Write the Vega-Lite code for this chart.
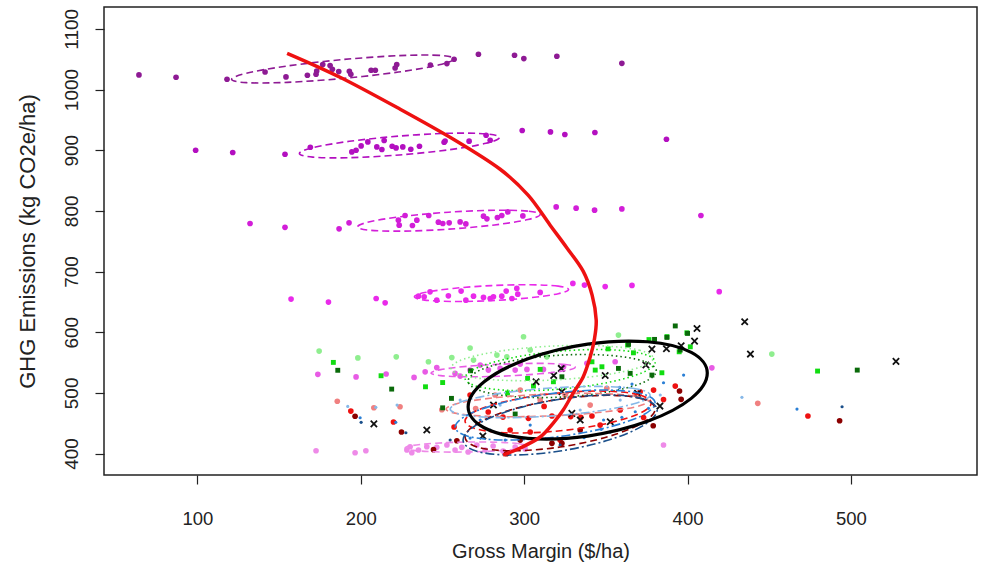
{
 "$schema": "https://vega.github.io/schema/vega-lite/v6.json",
 "width": 873, "height": 468,
 "autosize": {"type": "none"},
 "padding": {"left": 104, "top": 7, "right": 10, "bottom": 99},
 "background": "white",
 "config": {
  "view": {"stroke": "#222", "strokeWidth": 1.5},
  "font": "Liberation Sans",
  "axis": {"grid": false, "domain": false, "tickColor": "#222", "tickSize": 9, "tickWidth": 1.2, "labelColor": "#222", "titleColor": "#222", "titleFontWeight": "normal", "labelFont": "Liberation Sans", "titleFont": "Liberation Sans"}
 },
 "datasets": {
  "pts": [
   {"g":"p1","x":64.2,"y":1024.0},{"g":"p1","x":86.9,"y":1020.2},{"g":"p1","x":118.1,"y":1016.9},{"g":"p1","x":141.4,"y":1028.9},{"g":"p1","x":154.2,"y":1020.7},{"g":"p1","x":167.3,"y":1023.5},{"g":"p1","x":172.6,"y":1025.1},{"g":"p1","x":173.0,"y":1030.5},{"g":"p1","x":176.7,"y":1041.1},{"g":"p1","x":181.2,"y":1039.4},{"g":"p1","x":182.6,"y":1033.3},{"g":"p1","x":186.5,"y":1029.6},{"g":"p1","x":193.0,"y":1030.1},{"g":"p1","x":193.9,"y":1025.1},{"g":"p1","x":206.3,"y":1031.7},{"g":"p1","x":208.9,"y":1031.7},{"g":"p1","x":221.0,"y":1035.5},{"g":"p1","x":222.0,"y":1041.1},{"g":"p1","x":242.6,"y":1040.4},{"g":"p1","x":252.7,"y":1042.7},{"g":"p1","x":257.1,"y":1049.8},{"g":"p1","x":272.0,"y":1058.1},{"g":"p1","x":294.1,"y":1056.4},{"g":"p1","x":299.8,"y":1051.0},{"g":"p1","x":320.0,"y":1054.8},{"g":"p1","x":359.8,"y":1043.2},
   {"g":"p2","x":98.9,"y":899.9},{"g":"p2","x":121.6,"y":896.1},{"g":"p2","x":153.6,"y":893.3},{"g":"p2","x":169.1,"y":904.9},{"g":"p2","x":194.5,"y":897.1},{"g":"p2","x":197.1,"y":899.9},{"g":"p2","x":200.2,"y":907.0},{"g":"p2","x":204.3,"y":913.6},{"g":"p2","x":209.8,"y":905.4},{"g":"p2","x":212.9,"y":901.1},{"g":"p2","x":214.3,"y":915.9},{"g":"p2","x":219.2,"y":906.5},{"g":"p2","x":221.6,"y":903.7},{"g":"p2","x":225.7,"y":905.4},{"g":"p2","x":230.6,"y":901.6},{"g":"p2","x":235.9,"y":906.5},{"g":"p2","x":251.0,"y":913.1},{"g":"p2","x":251.6,"y":915.2},{"g":"p2","x":266.3,"y":914.8},{"g":"p2","x":276.7,"y":924.6},{"g":"p2","x":279.2,"y":916.4},{"g":"p2","x":298.8,"y":932.4},{"g":"p2","x":316.1,"y":930.1},{"g":"p2","x":324.9,"y":925.8},{"g":"p2","x":343.3,"y":929.1},{"g":"p2","x":387.1,"y":918.0},
   {"g":"p3","x":132.2,"y":779.2},{"g":"p3","x":153.6,"y":772.8},{"g":"p3","x":186.7,"y":770.3},{"g":"p3","x":192.8,"y":780.2},{"g":"p3","x":223.0,"y":784.6},{"g":"p3","x":223.5,"y":776.4},{"g":"p3","x":227.1,"y":792.4},{"g":"p3","x":231.6,"y":775.9},{"g":"p3","x":234.3,"y":784.6},{"g":"p3","x":241.6,"y":792.4},{"g":"p3","x":247.5,"y":781.3},{"g":"p3","x":250.2,"y":779.2},{"g":"p3","x":254.1,"y":780.2},{"g":"p3","x":260.8,"y":781.8},{"g":"p3","x":264.3,"y":778.5},{"g":"p3","x":275.1,"y":791.2},{"g":"p3","x":277.2,"y":786.8},{"g":"p3","x":283.6,"y":789.1},{"g":"p3","x":286.3,"y":792.4},{"g":"p3","x":290.0,"y":798.3},{"g":"p3","x":299.2,"y":791.7},{"g":"p3","x":319.6,"y":806.5},{"g":"p3","x":331.8,"y":804.4},{"g":"p3","x":343.1,"y":801.1},{"g":"p3","x":359.8,"y":803.2},{"g":"p3","x":408.2,"y":792.4},
   {"g":"p4","x":157.3,"y":654.5},{"g":"p4","x":180.2,"y":649.6},{"g":"p4","x":209.4,"y":655.6},{"g":"p4","x":214.9,"y":648.4},{"g":"p4","x":235.3,"y":659.4},{"g":"p4","x":238.8,"y":658.3},{"g":"p4","x":242.4,"y":666.5},{"g":"p4","x":246.5,"y":652.8},{"g":"p4","x":253.6,"y":659.9},{"g":"p4","x":261.4,"y":667.7},{"g":"p4","x":264.3,"y":652.8},{"g":"p4","x":269.0,"y":659.4},{"g":"p4","x":275.1,"y":657.3},{"g":"p4","x":279.2,"y":655.6},{"g":"p4","x":281.2,"y":658.3},{"g":"p4","x":286.3,"y":659.4},{"g":"p4","x":289.0,"y":667.7},{"g":"p4","x":292.5,"y":655.6},{"g":"p4","x":295.5,"y":672.1},{"g":"p4","x":296.1,"y":662.7},{"g":"p4","x":309.8,"y":665.5},{"g":"p4","x":329.8,"y":680.4},{"g":"p4","x":336.9,"y":677.6},{"g":"p4","x":349.6,"y":675.1},{"g":"p4","x":366.0,"y":677.1},{"g":"p4","x":419.4,"y":666.8},
   {"g":"p5","x":173.7,"y":530.5},{"g":"p5","x":197.1,"y":526.3},{"g":"p5","x":215.5,"y":531.0},{"g":"p5","x":232.6,"y":525.5},{"g":"p5","x":239.4,"y":534.7},{"g":"p5","x":246.5,"y":541.7},{"g":"p5","x":257.7,"y":532.1},{"g":"p5","x":266.9,"y":537.5},{"g":"p5","x":278.1,"y":537.5},{"g":"p5","x":285.3,"y":540.3},{"g":"p5","x":294.5,"y":537.5},{"g":"p5","x":301.7,"y":538.7},{"g":"p5","x":311.8,"y":538.7},{"g":"p5","x":324.1,"y":543.0},{"g":"p5","x":338.4,"y":548.6},{"g":"p5","x":355.7,"y":551.2},{"g":"p5","x":414.9,"y":541.3},{"g":"p5","x":273.1,"y":545.8},{"g":"p5","x":297.6,"y":547.4},{"g":"p5","x":260.8,"y":527.7},
   {"g":"p6","x":172.6,"y":404.6},{"g":"p6","x":196.5,"y":401.3},{"g":"p6","x":203.1,"y":404.6},{"g":"p6","x":228.2,"y":405.8},{"g":"p6","x":230.2,"y":411.2},{"g":"p6","x":231.2,"y":401.3},{"g":"p6","x":235.3,"y":405.8},{"g":"p6","x":240.4,"y":411.2},{"g":"p6","x":246.5,"y":410.2},{"g":"p6","x":252.7,"y":414.0},{"g":"p6","x":257.7,"y":405.8},{"g":"p6","x":261.8,"y":410.2},{"g":"p6","x":265.7,"y":402.5},{"g":"p6","x":271.0,"y":414.0},{"g":"p6","x":276.1,"y":405.8},{"g":"p6","x":281.0,"y":412.4},{"g":"p6","x":287.1,"y":404.1},{"g":"p6","x":294.5,"y":410.7},{"g":"p6","x":300.6,"y":407.4},{"g":"p6","x":385.3,"y":414.0},
   {"g":"g1","x":174.5,"y":568.8},{"g":"g1","x":198.2,"y":557.6},{"g":"g1","x":221.7,"y":559.4},{"g":"g1","x":241.4,"y":551.2},{"g":"g1","x":255.7,"y":558.1},{"g":"g1","x":269.0,"y":554.0},{"g":"g1","x":283.3,"y":562.2},{"g":"g1","x":289.4,"y":559.4},{"g":"g1","x":299.6,"y":592.4},{"g":"g1","x":313.9,"y":559.4},{"g":"g1","x":357.7,"y":595.2},{"g":"g1","x":451.6,"y":563.9},{"g":"g1","x":266.9,"y":573.8},{"g":"g1","x":303.7,"y":570.5},
   {"g":"g2","x":183.2,"y":550.2},{"g":"g2","x":212.4,"y":528.2},{"g":"g2","x":239.6,"y":510.0},{"g":"g2","x":250.1,"y":517.0},{"g":"g2","x":289.8,"y":499.7},{"g":"g2","x":302.1,"y":523.9},{"g":"g2","x":305.7,"y":511.2},{"g":"g2","x":309.8,"y":538.7},{"g":"g2","x":317.9,"y":518.3},{"g":"g2","x":341.5,"y":551.2},{"g":"g2","x":343.5,"y":537.5},{"g":"g2","x":347.6,"y":543.0},{"g":"g2","x":351.4,"y":572.5},{"g":"g2","x":363.3,"y":578.7},{"g":"g2","x":366.9,"y":566.0},{"g":"g2","x":376.4,"y":587.8},{"g":"g2","x":384.3,"y":533.1},{"g":"g2","x":387.4,"y":592.7},{"g":"g2","x":394.9,"y":567.7},{"g":"g2","x":399.6,"y":599.0},{"g":"g2","x":401.7,"y":575.9},{"g":"g2","x":479.6,"y":535.9},
   {"g":"g3","x":185.9,"y":537.2},{"g":"g3","x":218.9,"y":506.2},{"g":"g3","x":255.5,"y":490.9},{"g":"g3","x":267.2,"y":536.4},{"g":"g3","x":250.1,"y":475.3},{"g":"g3","x":294.5,"y":465.1},{"g":"g3","x":323.1,"y":526.5},{"g":"g3","x":357.7,"y":540.3},{"g":"g3","x":363.9,"y":579.9},{"g":"g3","x":364.9,"y":532.1},{"g":"g3","x":378.2,"y":529.3},{"g":"g3","x":379.8,"y":588.1},{"g":"g3","x":387.4,"y":591.4},{"g":"g3","x":392.5,"y":610.3},{"g":"g3","x":395.5,"y":570.5},{"g":"g3","x":400.0,"y":598.0},{"g":"g3","x":503.9,"y":537.5},
   {"g":"r1","x":185.6,"y":486.1},{"g":"r1","x":208.0,"y":475.4},{"g":"r1","x":224.0,"y":477.1},{"g":"r1","x":249.6,"y":472.1},{"g":"r1","x":270.3,"y":474.1},{"g":"r1","x":297.6,"y":504.6},{"g":"r1","x":350.6,"y":507.4},{"g":"r1","x":443.0,"y":482.7},{"g":"r1","x":282.2,"y":496.4},{"g":"r1","x":309.8,"y":488.1},{"g":"r1","x":325.1,"y":496.4},{"g":"r1","x":340.4,"y":479.9},
   {"g":"r2","x":193.9,"y":470.0},{"g":"r2","x":220.0,"y":451.9},{"g":"r2","x":257.1,"y":443.7},{"g":"r2","x":287.0,"y":460.1},{"g":"r2","x":302.6,"y":458.0},{"g":"r2","x":312.2,"y":477.7},{"g":"r2","x":317.0,"y":461.8},{"g":"r2","x":328.5,"y":460.9},{"g":"r2","x":334.7,"y":459.6},{"g":"r2","x":341.5,"y":461.8},{"g":"r2","x":371.0,"y":501.8},{"g":"r2","x":373.1,"y":459.3},{"g":"r2","x":379.2,"y":504.6},{"g":"r2","x":385.3,"y":488.9},{"g":"r2","x":392.5,"y":511.2},{"g":"r2","x":473.7,"y":461.8},{"g":"r2","x":266.9,"y":496.4},{"g":"r2","x":278.0,"y":468.4},{"g":"r2","x":291.4,"y":438.7},{"g":"r2","x":303.7,"y":435.4},{"g":"r2","x":322.0,"y":422.2},{"g":"r2","x":346.5,"y":446.9},{"g":"r2","x":358.8,"y":471.7},
   {"g":"r3","x":196.5,"y":461.4},{"g":"r3","x":224.9,"y":435.4},{"g":"r3","x":244.5,"y":406.3},{"g":"r3","x":258.8,"y":421.1},{"g":"r3","x":289.2,"y":399.7},{"g":"r3","x":317.0,"y":416.8},{"g":"r3","x":323.1,"y":416.8},{"g":"r3","x":379.0,"y":445.8},{"g":"r3","x":395.1,"y":503.0},{"g":"r3","x":396.1,"y":489.3},{"g":"r3","x":493.1,"y":454.0},{"g":"r3","x":297.6,"y":422.2},{"g":"r3","x":334.3,"y":438.7},
   {"g":"b1","x":192.0,"y":477.7},{"g":"b1","x":209.2,"y":476.1},{"g":"b1","x":222.2,"y":479.9},{"g":"b1","x":433.3,"y":492.6},{"g":"b1","x":260.8,"y":488.1},{"g":"b1","x":285.3,"y":479.9},{"g":"b1","x":309.8,"y":496.4},{"g":"b1","x":334.3,"y":471.7},{"g":"b1","x":358.8,"y":488.1},{"g":"b1","x":383.3,"y":496.4},
   {"g":"b2","x":199.6,"y":459.0},{"g":"b2","x":221.4,"y":451.4},{"g":"b2","x":467.0,"y":473.3},{"g":"b2","x":358.4,"y":509.0},{"g":"b2","x":366.0,"y":514.5},{"g":"b2","x":368.0,"y":468.9},{"g":"b2","x":376.1,"y":474.5},{"g":"b2","x":385.3,"y":516.6},{"g":"b2","x":397.6,"y":529.3},{"g":"b2","x":348.6,"y":455.2},{"g":"b2","x":347.2,"y":439.9},{"g":"b2","x":336.7,"y":426.0},{"g":"b2","x":359.8,"y":459.6},{"g":"b2","x":273.1,"y":455.2},{"g":"b2","x":288.4,"y":422.2},{"g":"b2","x":303.7,"y":446.9},{"g":"b2","x":266.9,"y":425.5},
   {"g":"b3","x":200.2,"y":451.4},{"g":"b3","x":227.6,"y":434.3},{"g":"b3","x":494.6,"y":477.1},{"g":"b3","x":254.7,"y":422.2},{"g":"b3","x":279.2,"y":438.7},{"g":"b3","x":322.0,"y":414.0},{"g":"b3","x":352.7,"y":435.4},{"g":"b3","x":377.2,"y":455.2},
   {"g":"k","x":208.0,"y":448.9},{"g":"k","x":240.4,"y":438.7},{"g":"k","x":281.2,"y":479.9},{"g":"k","x":274.7,"y":428.8},{"g":"k","x":307.3,"y":518.3},{"g":"k","x":318.1,"y":528.5},{"g":"k","x":322.7,"y":540.3},{"g":"k","x":323.1,"y":501.8},{"g":"k","x":329.2,"y":466.2},{"g":"k","x":334.3,"y":455.2},{"g":"k","x":349.6,"y":528.5},{"g":"k","x":352.7,"y":452.4},{"g":"k","x":369.4,"y":499.2},{"g":"k","x":374.5,"y":545.8},{"g":"k","x":378.2,"y":572.1},{"g":"k","x":383.1,"y":478.2},{"g":"k","x":387.1,"y":572.6},{"g":"k","x":396.1,"y":577.6},{"g":"k","x":404.3,"y":585.3},{"g":"k","x":405.8,"y":606.2},{"g":"k","x":435.0,"y":617.1},{"g":"k","x":438.5,"y":563.9},{"g":"k","x":527.6,"y":551.9}
  ],
  "ell": [
   {"g":"p1","k":0,"x":257.1,"y":1050.8},{"g":"p1","k":1,"x":248.0,"y":1056.3},{"g":"p1","k":2,"x":223.1,"y":1055.8},{"g":"p1","k":3,"x":189.0,"y":1049.4},{"g":"p1","k":4,"x":155.0,"y":1038.8},{"g":"p1","k":5,"x":130.0,"y":1026.9},{"g":"p1","k":6,"x":120.9,"y":1016.8},{"g":"p1","k":7,"x":130.0,"y":1011.3},{"g":"p1","k":8,"x":155.0,"y":1011.8},{"g":"p1","k":9,"x":189.0,"y":1018.2},{"g":"p1","k":10,"x":223.1,"y":1028.8},{"g":"p1","k":11,"x":248.0,"y":1040.7},
   {"g":"p2","k":0,"x":284.8,"y":920.9},{"g":"p2","k":1,"x":276.6,"y":926.9},{"g":"p2","k":2,"x":254.2,"y":927.8},{"g":"p2","k":3,"x":223.6,"y":923.3},{"g":"p2","k":4,"x":193.0,"y":914.6},{"g":"p2","k":5,"x":170.6,"y":904.1},{"g":"p2","k":6,"x":162.4,"y":894.5},{"g":"p2","k":7,"x":170.6,"y":888.5},{"g":"p2","k":8,"x":193.0,"y":887.6},{"g":"p2","k":9,"x":223.6,"y":892.1},{"g":"p2","k":10,"x":254.2,"y":900.8},{"g":"p2","k":11,"x":276.6,"y":911.3},
   {"g":"p3","k":0,"x":309.8,"y":794.0},{"g":"p3","k":1,"x":302.3,"y":799.6},{"g":"p3","k":2,"x":281.9,"y":801.0},{"g":"p3","k":3,"x":253.9,"y":797.8},{"g":"p3","k":4,"x":225.9,"y":790.8},{"g":"p3","k":5,"x":205.5,"y":782.0},{"g":"p3","k":6,"x":198.0,"y":773.6},{"g":"p3","k":7,"x":205.5,"y":768.0},{"g":"p3","k":8,"x":225.9,"y":766.6},{"g":"p3","k":9,"x":253.9,"y":769.8},{"g":"p3","k":10,"x":281.9,"y":776.8},{"g":"p3","k":11,"x":302.3,"y":785.6},
   {"g":"p4","k":0,"x":327.2,"y":670.5},{"g":"p4","k":1,"x":320.9,"y":675.9},{"g":"p4","k":2,"x":303.6,"y":678.2},{"g":"p4","k":3,"x":280.0,"y":676.8},{"g":"p4","k":4,"x":256.4,"y":672.1},{"g":"p4","k":5,"x":239.1,"y":665.3},{"g":"p4","k":6,"x":232.8,"y":658.3},{"g":"p4","k":7,"x":239.1,"y":652.9},{"g":"p4","k":8,"x":256.4,"y":650.6},{"g":"p4","k":9,"x":280.0,"y":652.0},{"g":"p4","k":10,"x":303.6,"y":656.8},{"g":"p4","k":11,"x":320.9,"y":663.5},
   {"g":"p5","k":0,"x":331.2,"y":542.4},{"g":"p5","k":1,"x":325.3,"y":546.7},{"g":"p5","k":2,"x":309.2,"y":548.6},{"g":"p5","k":3,"x":287.1,"y":547.4},{"g":"p5","k":4,"x":265.0,"y":543.7},{"g":"p5","k":5,"x":248.9,"y":538.3},{"g":"p5","k":6,"x":243.0,"y":532.6},{"g":"p5","k":7,"x":248.9,"y":528.4},{"g":"p5","k":8,"x":265.0,"y":526.5},{"g":"p5","k":9,"x":287.1,"y":527.6},{"g":"p5","k":10,"x":309.2,"y":531.4},{"g":"p5","k":11,"x":325.3,"y":536.8},
   {"g":"p6","k":0,"x":301.9,"y":412.3},{"g":"p6","k":1,"x":296.9,"y":416.2},{"g":"p6","k":2,"x":283.2,"y":418.6},{"g":"p6","k":3,"x":264.5,"y":418.9},{"g":"p6","k":4,"x":245.8,"y":417.0},{"g":"p6","k":5,"x":232.1,"y":413.4},{"g":"p6","k":6,"x":227.1,"y":409.1},{"g":"p6","k":7,"x":232.1,"y":405.2},{"g":"p6","k":8,"x":245.8,"y":402.8},{"g":"p6","k":9,"x":264.5,"y":402.5},{"g":"p6","k":10,"x":283.2,"y":404.4},{"g":"p6","k":11,"x":296.9,"y":408.0},
   {"g":"g1","k":0,"x":379.0,"y":557.3},{"g":"g1","k":1,"x":370.7,"y":570.2},{"g":"g1","k":2,"x":348.1,"y":577.4},{"g":"g1","k":3,"x":317.1,"y":577.1},{"g":"g1","k":4,"x":286.2,"y":569.2},{"g":"g1","k":5,"x":263.5,"y":556.0},{"g":"g1","k":6,"x":255.2,"y":540.9},{"g":"g1","k":7,"x":263.5,"y":528.0},{"g":"g1","k":8,"x":286.2,"y":520.8},{"g":"g1","k":9,"x":317.1,"y":521.1},{"g":"g1","k":10,"x":348.1,"y":529.0},{"g":"g1","k":11,"x":370.7,"y":542.2},
   {"g":"g2","k":0,"x":380.2,"y":550.7},{"g":"g2","k":1,"x":372.4,"y":564.6},{"g":"g2","k":2,"x":351.1,"y":571.2},{"g":"g2","k":3,"x":322.0,"y":568.8},{"g":"g2","k":4,"x":292.9,"y":558.0},{"g":"g2","k":5,"x":271.6,"y":541.8},{"g":"g2","k":6,"x":263.8,"y":524.3},{"g":"g2","k":7,"x":271.6,"y":510.5},{"g":"g2","k":8,"x":292.9,"y":503.8},{"g":"g2","k":9,"x":322.0,"y":506.2},{"g":"g2","k":10,"x":351.1,"y":517.0},{"g":"g2","k":11,"x":372.4,"y":533.3},
   {"g":"g3","k":0,"x":380.9,"y":535.9},{"g":"g3","k":1,"x":373.2,"y":552.1},{"g":"g3","k":2,"x":352.1,"y":561.8},{"g":"g3","k":3,"x":323.3,"y":562.3},{"g":"g3","k":4,"x":294.5,"y":553.6},{"g":"g3","k":5,"x":273.4,"y":537.9},{"g":"g3","k":6,"x":265.7,"y":519.5},{"g":"g3","k":7,"x":273.4,"y":503.3},{"g":"g3","k":8,"x":294.5,"y":493.6},{"g":"g3","k":9,"x":323.3,"y":493.1},{"g":"g3","k":10,"x":352.1,"y":501.8},{"g":"g3","k":11,"x":373.2,"y":517.5},
   {"g":"r1","k":0,"x":376.0,"y":486.5},{"g":"r1","k":1,"x":367.7,"y":494.7},{"g":"r1","k":2,"x":345.1,"y":498.9},{"g":"r1","k":3,"x":314.1,"y":498.0},{"g":"r1","k":4,"x":283.2,"y":492.3},{"g":"r1","k":5,"x":260.5,"y":483.3},{"g":"r1","k":6,"x":252.2,"y":473.3},{"g":"r1","k":7,"x":260.5,"y":465.2},{"g":"r1","k":8,"x":283.2,"y":460.9},{"g":"r1","k":9,"x":314.1,"y":461.8},{"g":"r1","k":10,"x":345.1,"y":467.5},{"g":"r1","k":11,"x":367.7,"y":476.6},
   {"g":"r2","k":0,"x":377.8,"y":483.2},{"g":"r2","k":1,"x":370.2,"y":496.9},{"g":"r2","k":2,"x":349.3,"y":502.9},{"g":"r2","k":3,"x":320.8,"y":499.7},{"g":"r2","k":4,"x":292.3,"y":488.1},{"g":"r2","k":5,"x":271.4,"y":471.3},{"g":"r2","k":6,"x":263.8,"y":453.6},{"g":"r2","k":7,"x":271.4,"y":440.0},{"g":"r2","k":8,"x":292.3,"y":433.9},{"g":"r2","k":9,"x":320.8,"y":437.1},{"g":"r2","k":10,"x":349.3,"y":448.7},{"g":"r2","k":11,"x":370.2,"y":465.6},
   {"g":"r3","k":0,"x":380.2,"y":473.3},{"g":"r3","k":1,"x":372.4,"y":490.0},{"g":"r3","k":2,"x":351.1,"y":496.0},{"g":"r3","k":3,"x":322.0,"y":489.7},{"g":"r3","k":4,"x":292.9,"y":472.9},{"g":"r3","k":5,"x":271.6,"y":450.0},{"g":"r3","k":6,"x":263.8,"y":427.1},{"g":"r3","k":7,"x":271.6,"y":410.5},{"g":"r3","k":8,"x":292.9,"y":404.5},{"g":"r3","k":9,"x":322.0,"y":410.7},{"g":"r3","k":10,"x":351.1,"y":427.6},{"g":"r3","k":11,"x":372.4,"y":450.5},
   {"g":"b1","k":0,"x":377.1,"y":496.3},{"g":"b1","k":1,"x":368.9,"y":506.4},{"g":"b1","k":2,"x":346.5,"y":510.6},{"g":"b1","k":3,"x":315.9,"y":507.9},{"g":"b1","k":4,"x":285.3,"y":499.1},{"g":"b1","k":5,"x":262.9,"y":486.4},{"g":"b1","k":6,"x":254.7,"y":473.3},{"g":"b1","k":7,"x":262.9,"y":463.3},{"g":"b1","k":8,"x":285.3,"y":459.1},{"g":"b1","k":9,"x":315.9,"y":461.7},{"g":"b1","k":10,"x":346.5,"y":470.6},{"g":"b1","k":11,"x":368.9,"y":483.3},
   {"g":"b2","k":0,"x":380.2,"y":483.2},{"g":"b2","k":1,"x":372.0,"y":498.6},{"g":"b2","k":2,"x":349.6,"y":504.7},{"g":"b2","k":3,"x":319.0,"y":499.6},{"g":"b2","k":4,"x":288.4,"y":484.9},{"g":"b2","k":5,"x":266.0,"y":464.4},{"g":"b2","k":6,"x":257.8,"y":443.6},{"g":"b2","k":7,"x":266.0,"y":428.2},{"g":"b2","k":8,"x":288.4,"y":422.2},{"g":"b2","k":9,"x":319.0,"y":427.2},{"g":"b2","k":10,"x":349.6,"y":442.0},{"g":"b2","k":11,"x":372.0,"y":462.4},
   {"g":"b3","k":0,"x":381.4,"y":471.6},{"g":"b3","k":1,"x":373.4,"y":489.7},{"g":"b3","k":2,"x":351.7,"y":496.4},{"g":"b3","k":3,"x":322.0,"y":489.7},{"g":"b3","k":4,"x":292.3,"y":471.7},{"g":"b3","k":5,"x":270.6,"y":446.9},{"g":"b3","k":6,"x":262.6,"y":422.2},{"g":"b3","k":7,"x":270.6,"y":404.1},{"g":"b3","k":8,"x":292.3,"y":397.5},{"g":"b3","k":9,"x":322.0,"y":404.1},{"g":"b3","k":10,"x":351.7,"y":422.2},{"g":"b3","k":11,"x":373.4,"y":446.9},
   {"g":"k","k":0,"x":412.1,"y":532.6},{"g":"k","k":1,"x":402.3,"y":566.7},{"g":"k","k":2,"x":375.5,"y":584.2},{"g":"k","k":3,"x":338.9,"y":580.4},{"g":"k","k":4,"x":302.3,"y":556.2},{"g":"k","k":5,"x":275.5,"y":518.3},{"g":"k","k":6,"x":265.7,"y":476.6},{"g":"k","k":7,"x":275.5,"y":442.5},{"g":"k","k":8,"x":302.3,"y":425.0},{"g":"k","k":9,"x":338.9,"y":428.8},{"g":"k","k":10,"x":375.5,"y":453.0},{"g":"k","k":11,"x":402.3,"y":490.9}
  ],
  "curve": [
   {"i":0,"x":154.9,"y":1059.7},{"i":1,"x":187.3,"y":1020.2},{"i":2,"x":224.1,"y":967.5},{"i":3,"x":257.7,"y":916.4},{"i":4,"x":285.3,"y":868.6},{"i":5,"x":302.4,"y":825.8},{"i":6,"x":315.9,"y":776.4},{"i":7,"x":326.3,"y":738.5},{"i":8,"x":336.1,"y":700.6},{"i":9,"x":341.6,"y":661.1},{"i":10,"x":344.1,"y":619.9},{"i":11,"x":342.9,"y":587.0},{"i":12,"x":340.4,"y":559.0},{"i":13,"x":336.1,"y":526.0},{"i":14,"x":330.0,"y":499.7},{"i":15,"x":323.9,"y":471.7},{"i":16,"x":317.8,"y":450.2},{"i":17,"x":309.8,"y":427.2},{"i":18,"x":297.6,"y":409.1},{"i":19,"x":287.1,"y":397.5}
  ]
 },
 "encoding": {
  "x": {"field": "x", "type": "quantitative", "scale": {"domain": [42.8, 577.2], "nice": false, "zero": false},
        "axis": {"values": [100, 200, 300, 400, 500], "format": "d", "labelFontSize": 18.5, "labelPadding": 25, "titleFontSize": 20, "titlePadding": 14, "labelFlush": false},
        "title": "Gross Margin ($/ha)"},
  "y": {"field": "y", "type": "quantitative", "scale": {"domain": [364.6, 1136], "nice": false, "zero": false},
        "axis": {"values": [400, 500, 600, 700, 800, 900, 1000, 1100], "format": "d", "labelAngle": -90, "labelAlign": "center", "labelBaseline": "bottom", "labelFontSize": 19, "labelPadding": 14, "titleFontSize": 22, "titlePadding": 23, "labelFlush": false},
        "title": "GHG Emissions (kg CO2e/ha)"}
 },
 "layer": [
  {
   "data": {"name": "pts"},
   "transform": [{"filter": {"field": "g", "oneOf": ["p1","p2","p3","p4","p5","p6","g1","r1","r2","r3"]}}],
   "mark": {"type": "point", "shape": "circle", "filled": true, "size": 32, "opacity": 1, "strokeWidth": 0},
   "encoding": {
    "color": {"field": "g", "type": "nominal", "legend": null,
      "scale": {"domain": ["p1","p2","p3","p4","p5","p6","g1","g2","g3","r1","r2","r3","b1","b2","b3","k"],
                "range": ["#8E1A94","#B30FC0","#D21ED8","#E92AEA","#E85BE5","#EE8AE8","#8FEE8F","#11DD11","#0A6A0A","#F08080","#EE1111","#8B0000","#86B8E8","#2A7FD5","#1A4F8A","#111111"]}}
   }
  },
  {
   "data": {"name": "pts"},
   "transform": [{"filter": {"field": "g", "oneOf": ["g2","g3"]}}],
   "mark": {"type": "point", "shape": "square", "filled": true, "size": 24, "opacity": 1, "strokeWidth": 0},
   "encoding": {
    "color": {"field": "g", "type": "nominal", "legend": null,
      "scale": {"domain": ["p1","p2","p3","p4","p5","p6","g1","g2","g3","r1","r2","r3","b1","b2","b3","k"],
                "range": ["#8E1A94","#B30FC0","#D21ED8","#E92AEA","#E85BE5","#EE8AE8","#8FEE8F","#11DD11","#0A6A0A","#F08080","#EE1111","#8B0000","#86B8E8","#2A7FD5","#1A4F8A","#111111"]}}
   }
  },
  {
   "data": {"name": "pts"},
   "transform": [{"filter": {"field": "g", "oneOf": ["b1","b2","b3"]}}],
   "mark": {"type": "point", "shape": "circle", "filled": true, "size": 10, "opacity": 1, "strokeWidth": 0},
   "encoding": {
    "color": {"field": "g", "type": "nominal", "legend": null,
      "scale": {"domain": ["p1","p2","p3","p4","p5","p6","g1","g2","g3","r1","r2","r3","b1","b2","b3","k"],
                "range": ["#8E1A94","#B30FC0","#D21ED8","#E92AEA","#E85BE5","#EE8AE8","#8FEE8F","#11DD11","#0A6A0A","#F08080","#EE1111","#8B0000","#86B8E8","#2A7FD5","#1A4F8A","#111111"]}}
   }
  },
  {
   "data": {"name": "pts"},
   "transform": [{"filter": {"field": "g", "equal": "k"}}],
   "mark": {"type": "point", "shape": "M-1,-1L1,1M-1,1L1,-1", "filled": false, "size": 40, "color": "#111111", "strokeWidth": 1.8, "opacity": 1}
  },
  {
   "data": {"name": "ell"},
   "transform": [{"filter": {"not": {"field": "g", "equal": "k"}}}],
   "mark": {"type": "line", "interpolate": "cardinal-closed", "strokeWidth": 1.6},
   "encoding": {
    "order": {"field": "k", "type": "quantitative"},
    "detail": {"field": "g"},
    "color": {"field": "g", "type": "nominal", "legend": null,
      "scale": {"domain": ["p1","p2","p3","p4","p5","p6","g1","g2","g3","r1","r2","r3","b1","b2","b3","k"],
                "range": ["#8E1A94","#B30FC0","#D21ED8","#E92AEA","#E85BE5","#EE8AE8","#8FEE8F","#11DD11","#0A6A0A","#F08080","#EE1111","#8B0000","#86B8E8","#2A7FD5","#1A4F8A","#111111"]}},
    "strokeDash": {"field": "g", "type": "nominal", "legend": null,
      "scale": {"domain": ["p1","p2","p3","p4","p5","p6","g1","g2","g3","r1","r2","r3","b1","b2","b3"],
                "range": [[7,4],[7,4],[7,4],[7,4],[7,4],[7,4],[1.5,3],[1.5,3],[1.5,3],[7,4],[7,4],[7,4],[9,3,2,3],[9,3,2,3],[9,3,2,3]]}}
   }
  },
  {
   "data": {"name": "ell"},
   "transform": [{"filter": {"field": "g", "equal": "k"}}],
   "mark": {"type": "line", "interpolate": "cardinal-closed", "strokeWidth": 3.2, "color": "#000000"},
   "encoding": {"order": {"field": "k", "type": "quantitative"}}
  },
  {
   "data": {"name": "curve"},
   "mark": {"type": "line", "interpolate": "cardinal", "strokeWidth": 3.5, "color": "#EE1111"},
   "encoding": {"order": {"field": "i", "type": "quantitative"}}
  }
 ]
}
